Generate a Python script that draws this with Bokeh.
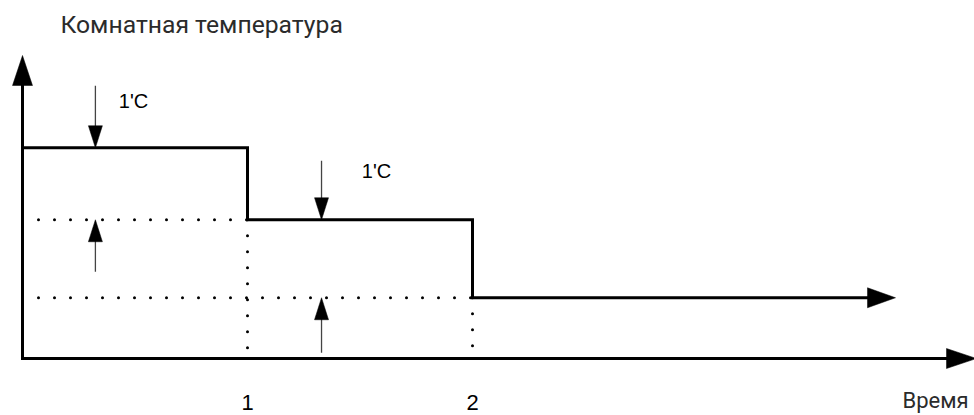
from bokeh.plotting import figure
from bokeh.models import Range1d
from bokeh.core.properties import value
from bokeh.embed import file_html
from bokeh.resources import INLINE

# ---------------- data ----------------
step_times = [0, 1, 2]                 # moments of the set-back steps
temp_levels = [2.81, 1.85, 0.81]       # room temperature levels (relative units)
line_end_time = 3.88                   # where the temperature line's arrow ends
time_axis_end = 4.24                   # tip of the time axis arrow
temp_axis_end = 4.04                   # tip of the temperature axis arrow
time_tick_labels = ["1", "2"]
drop_label = "1'C"
drop_marker_times = [0.324, 1.329]     # where the 1'C markers sit
x_axis_label = "Время"
y_axis_label = "Комнатная температура"

# ---------------- layout ----------------
W, H = 974, 415
PX_X, PX_Y = 225.0, 75.0     # pixels per time unit / per temperature unit
OX, OY = 22.0, 358.0         # picture position of the origin


def fx(px):
    return (px - OX) / PX_X


def fy(py):
    return (OY - py) / PX_Y


p = figure(width=W, height=H, output_backend="svg", toolbar_location=None,
           x_axis_type=None, y_axis_type=None, min_border=0,
           x_range=Range1d(fx(0), fx(W)),
           y_range=Range1d(fy(H), fy(0)))
p.grid.visible = False
p.outline_line_color = None
p.background_fill_color = "white"
p.border_fill_color = "white"


def head(tip_x, tip_y, ux, uy, length, width, color="black"):
    """Filled triangle arrow head; (ux, uy) unit direction in pixel space."""
    bx_px, by_px = -ux * length, -uy * length
    nx, ny = -uy * width / 2.0, ux * width / 2.0
    xs = [tip_x,
          tip_x + (bx_px + nx) / PX_X,
          tip_x + (bx_px - nx) / PX_X]
    ys = [tip_y,
          tip_y + (by_px + ny) / PX_Y,
          tip_y + (by_px - ny) / PX_Y]
    p.patch(xs, ys, fill_color=color, line_color=color, line_width=0.5)


# ---------------- axes ----------------
AX_HEAD_L, AX_HEAD_W = 30, 20
p.line([0, 0, time_axis_end - (AX_HEAD_L - 2) / PX_X],
       [temp_axis_end - (AX_HEAD_L - 2) / PX_Y, 0, 0],
       line_color="black", line_width=3, line_join="miter", line_cap="butt")
head(0, temp_axis_end, 0, 1, AX_HEAD_L, AX_HEAD_W)
head(time_axis_end, 0, 1, 0, AX_HEAD_L, AX_HEAD_W)

# ---------------- dotted guide lines ----------------
dot_start = fx(38)
for i in (1, 2):
    p.line([dot_start, step_times[i]], [temp_levels[i], temp_levels[i]],
           line_color="black", line_width=3, line_dash="0 16", line_cap="round")
for i, bottom_px in ((1, 351), (2, 348)):
    p.line([step_times[i], step_times[i]], [temp_levels[i], fy(bottom_px)],
           line_color="black", line_width=3, line_dash="0 16", line_cap="round")

# ---------------- temperature step line ----------------
LINE_HEAD_L, LINE_HEAD_W = 28, 20
xs, ys = [], []
for i, t in enumerate(step_times):
    xs.append(t)
    ys.append(temp_levels[i])
    t_next = step_times[i + 1] if i + 1 < len(step_times) else line_end_time - (LINE_HEAD_L - 2) / PX_X
    xs.append(t_next)
    ys.append(temp_levels[i])
p.line(xs, ys, line_color="black", line_width=3, line_join="miter", line_cap="butt")
head(line_end_time, temp_levels[-1], 1, 0, LINE_HEAD_L, LINE_HEAD_W)

# ---------------- 1'C markers ----------------
SM_HEAD_L, SM_HEAD_W = 22, 14
shaft_col = "#444444"
down_len = [62, 59]
up_len = [52, 55]
for k, tm in enumerate(drop_marker_times):
    hi, lo = temp_levels[k], temp_levels[k + 1]
    # arrow from above onto the higher level
    p.line([tm, tm], [hi + down_len[k] / PX_Y, hi + (SM_HEAD_L - 2) / PX_Y],
           line_color=shaft_col, line_width=1.3)
    head(tm, hi, 0, -1, SM_HEAD_L, SM_HEAD_W)
    # arrow from below onto the lower level
    p.line([tm, tm], [lo - up_len[k] / PX_Y, lo - (SM_HEAD_L - 2) / PX_Y],
           line_color=shaft_col, line_width=1.3)
    head(tm, lo, 0, 1, SM_HEAD_L, SM_HEAD_W)

label_pos = [(133, 100), (376, 170)]
p.text(x=[fx(x) for x, _ in label_pos], y=[fy(y) for _, y in label_pos],
       text=[drop_label] * 2, text_font=value("Liberation Sans"),
       text_font_size="20px", text_align="center", text_baseline="middle",
       text_color="black")

# ---------------- tick labels and axis titles ----------------
p.text(x=step_times[1:], y=[fy(402)] * 2, text=time_tick_labels,
       text_font=value("Liberation Sans"), text_font_size="22px",
       text_align="center", text_baseline="middle", text_color="black")

p.text(x=[fx(60)], y=[fy(24)], text=[y_axis_label],
       text_font=value("Roboto"), text_font_size="24.7px",
       text_align="left", text_baseline="middle", text_color="#2b2b2b")
p.text(x=[fx(902)], y=[fy(399.5)], text=[x_axis_label],
       text_font=value("Roboto"), text_font_size="22px",
       text_align="left", text_baseline="middle", text_color="#2b2b2b")

open("out.html", "w").write(file_html(p, INLINE))
